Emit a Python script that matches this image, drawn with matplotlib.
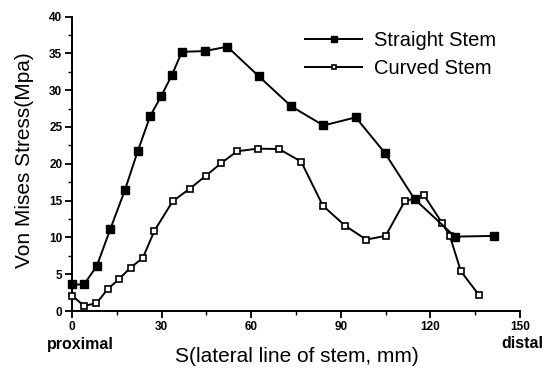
import numpy as np
import matplotlib
matplotlib.use('Agg')
import matplotlib.pyplot as plt
from matplotlib.ticker import MultipleLocator

plt.rcParams['font.family'] = ['Liberation Sans', 'DejaVu Sans']

# Straight stem (filled squares)
straight_x = [0, 4, 8.3, 12.8, 17.7, 22, 26.2, 29.9, 33.5, 36.8, 44.4, 52,
              62.5, 73.4, 84.2, 95, 104.7, 114.7, 128.2, 141.3]
straight_y = [3.6, 3.6, 6.1, 11.1, 16.4, 21.7, 26.5, 29.2, 32.1, 35.2, 35.3, 35.9,
              31.9, 27.8, 25.2, 26.3, 21.5, 15.2, 10.1, 10.2]

# Curved stem (open squares)
curved_x = [0, 4, 8.2, 12, 15.8, 19.6, 23.7, 27.6, 33.7, 39.4, 44.9, 50, 55.3,
            62.2, 69.3, 76.7, 84, 91.4, 98.5, 105, 111.4, 117.9, 124, 126.5,
            130.2, 136.2]
curved_y = [2.1, 0.7, 1.05, 3.0, 4.35, 5.9, 7.2, 10.9, 14.9, 16.6, 18.4, 20.1, 21.7,
            22.05, 22.0, 20.3, 14.3, 11.6, 9.7, 10.2, 14.9, 15.7, 11.9, 10.2,
            5.4, 2.2]

W, H = 548, 371
fig = plt.figure(figsize=(W / 100, H / 100), dpi=100)
ax = fig.add_axes([72 / W, 1 - 311 / H, (520 - 72) / W, (311 - 16.5) / H])

ax.plot(curved_x, curved_y, '-', color='black', linewidth=1.4, marker='s',
        markersize=5, markerfacecolor='white', markeredgecolor='black',
        markeredgewidth=1.2, clip_on=False, label='Curved Stem', zorder=3)
ax.plot(straight_x, straight_y, '-', color='black', linewidth=1.4, marker='s',
        markersize=6, markerfacecolor='black', markeredgecolor='black',
        clip_on=False, label='Straight Stem', zorder=4)

ax.set_xlim(0, 150)
ax.set_ylim(0, 40)
ax.xaxis.set_major_locator(MultipleLocator(30))
ax.xaxis.set_minor_locator(MultipleLocator(15))
ax.yaxis.set_major_locator(MultipleLocator(5))
ax.yaxis.set_minor_locator(MultipleLocator(2.5))

for s in ['top', 'right']:
    ax.spines[s].set_visible(False)
for s in ['left', 'bottom']:
    ax.spines[s].set_linewidth(1.4)

ax.tick_params(which='major', direction='out', length=5, width=1.3, pad=2,
               labelsize=8.5)
ax.tick_params(which='minor', direction='out', length=3, width=1.0)
for lbl in ax.get_xticklabels() + ax.get_yticklabels():
    lbl.set_fontweight('bold')

# Legend (reverse order: Straight first)
handles, labels = ax.get_legend_handles_labels()
leg = ax.legend(handles[::-1], labels[::-1], loc='upper left',
                bbox_to_anchor=((305 - 72) / (520 - 72), 1 - (31 - 16.5) / (311 - 16.5)),
                frameon=False, fontsize=14.5, handlelength=2.85, handletextpad=0.6,
                labelspacing=0.45, markerscale=0.7, borderaxespad=0, borderpad=0)

fig.text(25 / W, 1 - 160 / H, 'Von Mises Stress(Mpa)', rotation=90,
         ha='center', va='center', fontsize=15)
fig.text(297 / W, 1 - 357 / H, 'S(lateral line of stem, mm)',
         ha='center', va='center', fontsize=15)
fig.text(47 / W, 1 - 344.5 / H, 'proximal', ha='left', va='center',
         fontsize=11.5, fontweight='bold')
fig.text(543 / W, 1 - 344 / H, 'distal', ha='right', va='center',
         fontsize=11.5, fontweight='bold')

fig.savefig('out.png', dpi=100)
